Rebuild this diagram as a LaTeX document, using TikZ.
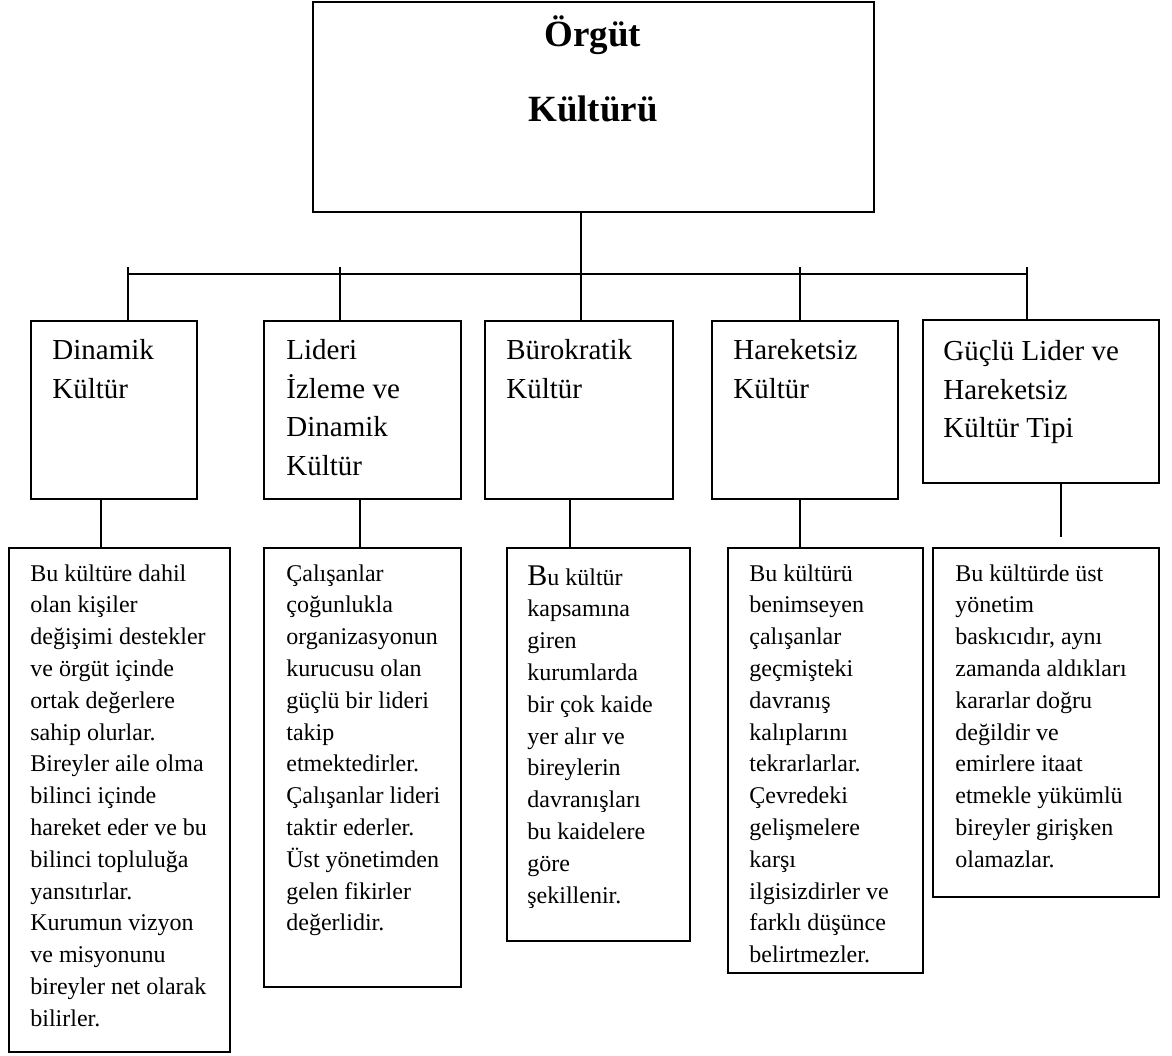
\documentclass[tikz,border=0pt]{standalone}
\usepackage{fontspec}
\setmainfont{Liberation Serif}
\usetikzlibrary{positioning, fit}

\begin{document}
\begin{tikzpicture}[x=0.5pt, y=-0.5pt,
        box/.style={draw, line width=1pt, inner sep=0pt},
        head/.style={anchor=north west, align=left, inner sep=0pt, font=\fontsize{14.5}{19.3}\selectfont},
        body/.style={anchor=north west, align=left, inner sep=0pt, font=\fontsize{12}{15.9}\selectfont},
        link/.style={line width=0.8pt}]
    \useasboundingbox (0,0) rectangle (1172,1055);

    % top box
    \node[box, fit={(313,2) (874,212)}] (org) {};
    \node[anchor=north, align=center, inner sep=0pt, font=\fontsize{18.5}{37.5}\bfseries] (orgtxt) at (593,15) {Örgüt\\Kültürü};

    % culture types
    \node[box, fit={(31,321) (197,499)}] (b1) {};
    \node[box, fit={(264,321) (461,499)}] (b2) {};
    \node[box, fit={(485,321) (673,499)}] (b3) {};
    \node[box, fit={(712,321) (898,499)}] (b4) {};
    \node[box, fit={(923,320) (1159,483)}] (b5) {};
    \node[head] (h1) at (52,339) {Dinamik\\Kültür};
    \node[head] (h2) at (286,339) {Lideri\\İzleme ve\\Dinamik\\Kültür};
    \node[head] (h3) at (506,339) {Bürokratik\\Kültür};
    \node[head] (h4) at (733,339) {Hareketsiz\\Kültür};
    \node[head] (h5) at (943,340) {Güçlü Lider ve\\Hareketsiz\\Kültür Tipi};

    % descriptions
    \node[box, fit={(9,548) (230,1052)}] (d1) {};
    \node[box, fit={(264,548) (461,987)}] (d2) {};
    \node[box, fit={(507,548) (690,941)}] (d3) {};
    \node[box, fit={(728,548) (923,973)}] (d4) {};
    \node[box, fit={(933,548) (1159,897)}] (d5) {};
    \node[body] (e1) at (30,564) {Bu kültüre dahil\\olan kişiler\\değişimi destekler\\ve örgüt içinde\\ortak değerlere\\sahip olurlar.\\Bireyler aile olma\\bilinci içinde\\hareket eder ve bu\\bilinci topluluğa\\yansıtırlar.\\Kurumun vizyon\\ve misyonunu\\bireyler net olarak\\bilirler.};
    \node[body] (e2) at (286,564) {Çalışanlar\\çoğunlukla\\organizasyonun\\kurucusu olan\\güçlü bir lideri\\takip\\etmektedirler.\\Çalışanlar lideri\\taktir ederler.\\Üst yönetimden\\gelen fikirler\\değerlidir.};
    \node[body] (e3) at (527,565) {{\fontsize{15}{15.9}\selectfont B}u kültür\\kapsamına\\giren\\kurumlarda\\bir çok kaide\\yer alır ve\\bireylerin\\davranışları\\bu kaidelere\\göre\\şekillenir.};
    \node[body] (e4) at (749,564) {Bu kültürü\\benimseyen\\çalışanlar\\geçmişteki\\davranış\\kalıplarını\\tekrarlarlar.\\Çevredeki\\gelişmelere\\karşı\\ilgisizdirler ve\\farklı düşünce\\belirtmezler.};
    \node[body] (e5) at (955,564) {Bu kültürde üst\\yönetim\\baskıcıdır, aynı\\zamanda aldıkları\\kararlar doğru\\değildir ve\\emirlere itaat\\etmekle yükümlü\\bireyler girişken\\olamazlar.};

    % tree lines
    \coordinate (bus) at (0,274);
    \coordinate (stem) at (581,0);
    \foreach \x[count=\i] in {128, 340, 800, 1027} {
        \coordinate (t\i) at (\x,267);
    }
    \draw[link] (t1 |- bus) -- (t4 |- bus);
    \draw[link] (stem |- org.south) -- (stem |- b3.north);
    \draw[link] (t1) -- (t1 |- b1.north);
    \draw[link] (t2) -- (t2 |- b2.north);
    \draw[link] (t3) -- (t3 |- b4.north);
    \draw[link] (t4) -- (t4 |- b5.north);

    \foreach \x/\i in {101/1, 360/2, 570/3, 800/4} {
        \coordinate (l\i) at (\x,0);
        \draw[link] (l\i |- b\i.south) -- (l\i |- d\i.north);
    }
    \coordinate (l5) at (1061,0);
    \draw[link] (l5 |- b5.south) -- ++(0,53);
\end{tikzpicture}
\end{document}
